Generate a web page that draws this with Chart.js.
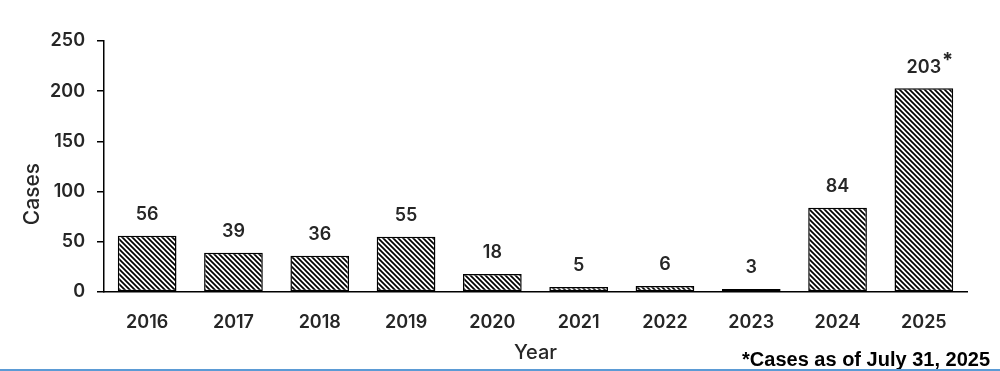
<!DOCTYPE html>
<html>
<head>
<meta charset="utf-8">
<script src="https://cdn.jsdelivr.net/npm/chart.js@4/dist/chart.umd.min.js"></script>
<style>
    html, body { margin: 0; padding: 0; background: #fff; }
    #wrap { width: 1000px; height: 369px; position: relative; }
    #bar { width: 1000px; height: 2px; background: #5b9bd5; }
</style>
</head>
<body>
<div id="wrap"><canvas id="chart"></canvas></div>
<div id="bar"></div>
<script>
const years = ["2016", "2017", "2018", "2019", "2020", "2021", "2022", "2023", "2024", "2025"]
const cases = [56, 39, 36, 55, 18, 5, 6, 3, 84, 203]
const notes = ["", "", "", "", "", "", "", "", "", "*"]
const yTicks = [0, 50, 100, 150, 200, 250]
const footnote = "*Cases as of July 31, 2025"

const textColor = "#262626"
const FONT = "Inter, 'DejaVu Sans', sans-serif"

// diagonal hatch, top-left to bottom-right
function makeHatch() {
    const size = 5
    const c = document.createElement("canvas")
    c.width = size
    c.height = size
    const ctx = c.getContext("2d")
    ctx.fillStyle = "#fff"
    ctx.fillRect(0, 0, size, size)
    ctx.strokeStyle = "#000"
    ctx.lineWidth = 1.7
    ctx.beginPath()
    ctx.moveTo(-1, -1)
    ctx.lineTo(size + 1, size + 1)
    ctx.moveTo(-1, size - 1)
    ctx.lineTo(1, size + 1)
    ctx.moveTo(size - 1, -1)
    ctx.lineTo(size + 1, 1)
    ctx.stroke()
    return ctx.createPattern(c, "repeat")
}

const extraText = {
    id: "extraText",
    afterDatasetsDraw(chart) {
        const ctx = chart.ctx
        const meta = chart.getDatasetMeta(0)
        ctx.save()
        ctx.fillStyle = textColor
        ctx.textAlign = "center"
        ctx.textBaseline = "middle"
        meta.data.forEach((bar, i) => {
            ctx.font = `600 18px ${FONT}`
            const label = String(cases[i])
            ctx.fillText(label, bar.x, bar.y - 21)
            if (notes[i]) {
                const w = ctx.measureText(label).width
                ctx.font = `bold 20px ${FONT}`
                ctx.textAlign = "left"
                ctx.fillText(notes[i], bar.x + w / 2 + 1, bar.y - 27)
                ctx.textAlign = "center"
            }
        })

        // y axis title, sits a bit below the middle of the plot
        ctx.save()
        ctx.translate(33, 194)
        ctx.rotate(-Math.PI / 2)
        ctx.font = `500 21px ${FONT}`
        ctx.fillText("Cases", 0, 0)
        ctx.restore()

        ctx.font = `bold 20px 'Liberation Sans', Arial, sans-serif`
        ctx.textAlign = "right"
        ctx.textBaseline = "alphabetic"
        ctx.fillStyle = "#000"
        ctx.fillText(footnote, 990, 366)
        ctx.restore()
    },
}

const ctx = document.getElementById("chart").getContext("2d")
new Chart(ctx, {
    type: "bar",
    data: {
        labels: years,
        datasets: [
            {
                data: cases,
                backgroundColor: makeHatch(),
                borderColor: "#000",
                borderWidth: 1.5,
                borderSkipped: false,
                categoryPercentage: 0.68,
                barPercentage: 1,
            },
        ],
    },
    options: {
        responsive: true,
        maintainAspectRatio: false,
        animation: false,
        layout: { padding: { top: 41, right: 33, left: 0, bottom: 0 } },
        plugins: {
            legend: { display: false },
            tooltip: { enabled: false },
        },
        scales: {
            x: {
                grid: { display: false, drawTicks: false },
                border: { color: "#000", width: 1.5 },
                ticks: {
                    color: textColor,
                    font: { family: FONT, size: 18, weight: 600 },
                    padding: 20,
                },
                title: {
                    display: true,
                    text: "Year",
                    color: textColor,
                    font: { family: FONT, size: 20, weight: 500 },
                    padding: { top: 6 },
                },
                afterFit(scale) {
                    scale.height = 77
                },
            },
            y: {
                min: 0,
                max: 250,
                afterBuildTicks(scale) {
                    scale.ticks = yTicks.map((v) => ({ value: v }))
                },
                grid: {
                    drawOnChartArea: false,
                    drawTicks: true,
                    tickLength: 7,
                    color: "#000",
                    lineWidth: 1.5,
                },
                border: { color: "#000", width: 1.5 },
                ticks: {
                    color: textColor,
                    font: { family: FONT, size: 18, weight: 600 },
                    padding: 12,
                },
                afterFit(scale) {
                    scale.width = 104
                },
            },
        },
    },
    plugins: [extraText],
})
</script>
</body>
</html>
